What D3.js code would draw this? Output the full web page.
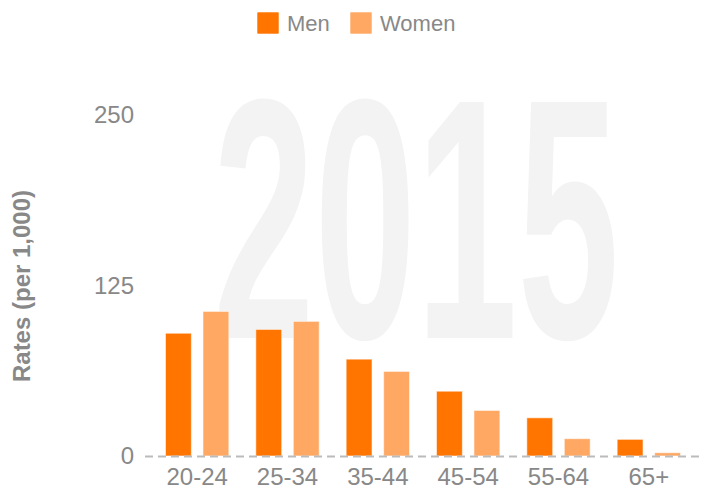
<!DOCTYPE html>
<html>
<head>
<meta charset="utf-8">
<script src="https://cdn.jsdelivr.net/npm/d3@7"></script>
<style>
  body { margin: 0; background: #fff; }
  text { font-family: "Liberation Sans", Arial, sans-serif; }
</style>
</head>
<body>
<div id="chart"></div>
<script>
// chart data
const ageGroups = ["20-24", "25-34", "35-44", "45-54", "55-64", "65+"];
const seriesNames = ["Men", "Women"];
const menRates = [90, 92.8, 71, 47.5, 28, 12.2];
const womenRates = [106, 98.7, 62, 33.4, 12.7, 2.4];
const yTicks = [0, 125, 250];
const yearLabel = "2015";

const colors = { Men: "#ff7500", Women: "#ffa864" };

const W = 710, H = 492;
const margin = { top: 115, right: 16, bottom: 36, left: 152 };
const width = W - margin.left - margin.right;
const height = H - margin.top - margin.bottom;

const svg = d3.select("#chart")
    .append("svg")
    .attr("width", W)
    .attr("height", H);

const g = svg.append("g")
    .attr("transform", `translate(${margin.left},${margin.top})`);

// big year watermark behind bars
const wm = g.append("text")
    .text(yearLabel)
    .attr("font-family", "'DejaVu Sans Condensed', 'DejaVu Sans', sans-serif")
    .attr("font-weight", "bold")
    .attr("font-size", 343)
    .attr("text-anchor", "middle")
    .attr("fill", "#f3f3f3");
const wmLen = wm.node().getComputedTextLength();
wm.attr("transform", `translate(${width / 2 - 7},${height - 118}) scale(${406 / wmLen},1)`);

const x0 = d3.scaleBand()
    .domain(ageGroups)
    .range([0, width]);

const x1 = d3.scaleBand()
    .domain(seriesNames)
    .range([0, x0.bandwidth()])
    .paddingInner(0.31)
    .paddingOuter(0.36);

const y = d3.scaleLinear()
    .domain([0, 250])
    .range([height, 0]);

const rows = ageGroups.map((a, i) => ({
    group: a,
    values: [
        { key: "Men", value: menRates[i] },
        { key: "Women", value: womenRates[i] }
    ]
}));

const groups = g.selectAll(".grp")
    .data(rows)
    .enter().append("g")
    .attr("class", "grp")
    .attr("transform", d => `translate(${x0(d.group)},0)`);

groups.selectAll("rect")
    .data(d => d.values)
    .enter().append("rect")
    .attr("x", d => x1(d.key))
    .attr("width", x1.bandwidth())
    .attr("y", d => y(d.value))
    .attr("height", d => height - y(d.value))
    .attr("fill", d => colors[d.key])
    .attr("stroke", "rgba(255,255,255,0.55)")
    .attr("stroke-width", 1);

// dashed zero line
g.append("line")
    .attr("x1", -7)
    .attr("x2", width + 9)
    .attr("y1", y(0) + 0.5)
    .attr("y2", y(0) + 0.5)
    .attr("stroke", "#bbb")
    .attr("stroke-width", 2)
    .attr("stroke-dasharray", "8,5");

// y axis (labels only)
const yAxis = g.append("g")
    .call(d3.axisLeft(y).tickValues(yTicks).tickSize(0).tickPadding(18));
yAxis.select(".domain").remove();
yAxis.selectAll("text")
    .attr("font-size", 24)
    .attr("font-family", "'Liberation Sans', Arial, sans-serif")
    .attr("fill", "#888");

// x axis (labels only)
const xAxis = g.append("g")
    .attr("transform", `translate(0,${height})`)
    .call(d3.axisBottom(x0).tickSize(0).tickPadding(12));
xAxis.select(".domain").remove();
xAxis.selectAll("text")
    .attr("font-size", 24)
    .attr("font-family", "'Liberation Sans', Arial, sans-serif")
    .attr("fill", "#888");

// y title
svg.append("text")
    .attr("transform", `translate(30,${margin.top + 171}) rotate(-90)`)
    .attr("text-anchor", "middle")
    .attr("font-size", 24)
    .attr("font-weight", "bold")
    .attr("fill", "#888")
    .text("Rates (per 1,000)");

// legend
const legend = svg.append("g").attr("transform", "translate(257,12)");
const legendX = [0, 93];
seriesNames.forEach((s, i) => {
    const item = legend.append("g").attr("transform", `translate(${legendX[i]},0)`);
    item.append("rect")
        .attr("width", 22)
        .attr("height", 22)
        .attr("rx", 1)
        .attr("fill", colors[s])
        .attr("stroke", "rgba(255,255,255,0.55)");
    item.append("text")
        .attr("x", 30)
        .attr("y", 11)
        .attr("dy", "0.36em")
        .attr("font-size", 22)
        .attr("fill", "#888")
        .text(s);
});
</script>
</body>
</html>
